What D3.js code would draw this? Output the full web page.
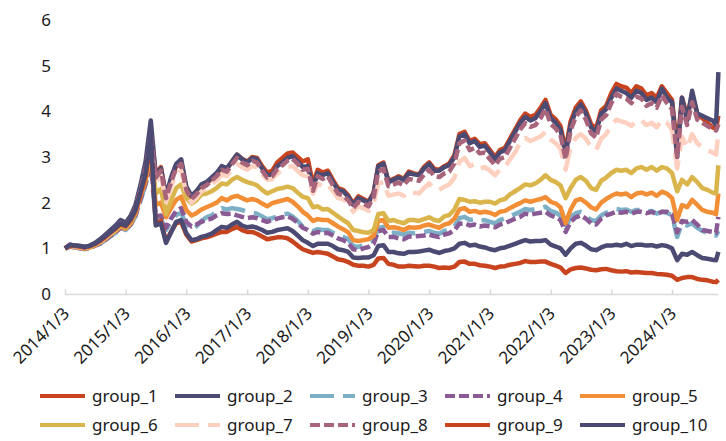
<!DOCTYPE html>
<html>
<head>
<meta charset="utf-8">
<script src="https://cdn.jsdelivr.net/npm/d3@7"></script>
<style>
  body { margin: 0; background: #fff; }
  text { font-family: "Noto Sans", sans-serif; fill: #1a1a1a; }
</style>
</head>
<body>
<div id="chart"></div>
<script>
// monthly points (3rd of each month) + two last trading days
var dates = d3.timeMonth.range(new Date(2014, 0, 1), new Date(2024, 9, 1))
  .map(d => new Date(d.getFullYear(), d.getMonth(), 3))
  .concat([new Date(2024, 8, 24), new Date(2024, 9, 8)]);

var tickYears = [2014, 2015, 2016, 2017, 2018, 2019, 2020, 2021, 2022, 2023, 2024];
var yTicks = [0, 1, 2, 3, 4, 5, 6];

var names = ["group_1", "group_2", "group_3", "group_4", "group_5",
             "group_6", "group_7", "group_8", "group_9", "group_10"];

var group_1 = [
  1.00, 1.07, 1.05, 1.04, 1.02, 1.05, 1.11, 1.18, 1.28, 1.38, 1.47, 1.58,
  1.53, 1.68, 1.90, 2.35, 2.80, 3.55, 2.62, 2.78, 2.15, 2.50, 2.80, 2.90,
  2.30, 2.12, 2.22, 2.38, 2.42, 2.52, 2.62, 2.78, 2.74, 2.90, 3.05, 2.96,
  2.90, 3.00, 2.98, 2.80, 2.66, 2.70, 2.88, 2.98, 3.08, 3.10, 3.00, 2.90,
  2.95, 2.40, 2.72, 2.66, 2.70, 2.50, 2.32, 2.28, 2.16, 1.98, 2.14, 2.08,
  2.02, 2.22, 2.82, 2.88, 2.48, 2.52, 2.58, 2.52, 2.68, 2.64, 2.62, 2.78,
  2.88, 2.74, 2.72, 2.80, 2.86, 3.04, 3.50, 3.55, 3.35, 3.40, 3.28, 3.30,
  3.15, 3.00, 3.15, 3.20, 3.40, 3.60, 3.80, 3.95, 3.88, 3.92, 4.08, 4.25,
  3.92, 3.82, 3.68, 3.15, 3.78, 4.08, 4.22, 4.02, 3.72, 3.62, 4.02, 4.12,
  4.40, 4.60, 4.55, 4.52, 4.40, 4.55, 4.50, 4.35, 4.40, 4.30, 4.55, 4.40,
  4.25, 3.20, 4.30, 3.90, 4.35, 3.95, 3.85, 3.75, 3.65, 3.62, 3.90];

var group_2 = [
  1.00, 1.08, 1.06, 1.05, 1.03, 1.06, 1.12, 1.20, 1.30, 1.40, 1.50, 1.62,
  1.56, 1.72, 1.95, 2.40, 2.90, 3.80, 2.60, 2.75, 2.15, 2.55, 2.85, 2.95,
  2.35, 2.15, 2.25, 2.40, 2.45, 2.55, 2.65, 2.80, 2.75, 2.90, 3.05, 2.95,
  2.88, 2.98, 2.95, 2.75, 2.60, 2.62, 2.80, 2.88, 2.98, 3.02, 2.90, 2.78,
  2.80, 2.30, 2.65, 2.60, 2.65, 2.45, 2.28, 2.25, 2.13, 1.95, 2.10, 2.05,
  2.00, 2.20, 2.80, 2.85, 2.45, 2.50, 2.55, 2.50, 2.65, 2.62, 2.60, 2.75,
  2.85, 2.70, 2.70, 2.78, 2.82, 3.00, 3.45, 3.50, 3.30, 3.35, 3.22, 3.25,
  3.10, 2.95, 3.10, 3.15, 3.35, 3.55, 3.74, 3.88, 3.80, 3.85, 4.00, 4.18,
  3.85, 3.75, 3.60, 3.05, 3.70, 4.00, 4.15, 3.95, 3.65, 3.55, 3.95, 4.05,
  4.30, 4.50, 4.45, 4.40, 4.30, 4.45, 4.40, 4.25, 4.30, 4.20, 4.50, 4.30,
  4.20, 3.00, 4.30, 3.80, 4.45, 3.95, 3.90, 3.85, 3.80, 3.70, 4.86];

var group_3 = [
  1.00, 1.04, 1.02, 1.00, 0.98, 1.01, 1.05, 1.10, 1.18, 1.26, 1.34, 1.44,
  1.40, 1.52, 1.70, 2.05, 2.40, 2.85, 1.60, 1.65, 1.40, 1.58, 1.73, 1.78,
  1.50, 1.40, 1.48, 1.60, 1.68, 1.72, 1.80, 1.88, 1.85, 1.88, 1.86, 1.84,
  1.80, 1.78, 1.76, 1.70, 1.64, 1.66, 1.70, 1.74, 1.76, 1.70, 1.60, 1.48,
  1.42, 1.38, 1.42, 1.40, 1.40, 1.34, 1.28, 1.25, 1.20, 1.05, 1.03, 1.08,
  1.12, 1.18, 1.45, 1.47, 1.34, 1.34, 1.33, 1.30, 1.34, 1.33, 1.34, 1.36,
  1.38, 1.34, 1.32, 1.38, 1.40, 1.48, 1.66, 1.69, 1.62, 1.64, 1.60, 1.62,
  1.58, 1.55, 1.62, 1.65, 1.70, 1.75, 1.80, 1.86, 1.84, 1.86, 1.88, 1.91,
  1.82, 1.78, 1.72, 1.45, 1.68, 1.77, 1.80, 1.72, 1.62, 1.60, 1.72, 1.78,
  1.82, 1.86, 1.84, 1.85, 1.80, 1.84, 1.84, 1.80, 1.82, 1.76, 1.80, 1.78,
  1.72, 1.25, 1.55, 1.50, 1.55, 1.45, 1.38, 1.34, 1.30, 1.28, 1.38];

var group_4 = [
  1.00, 1.04, 1.02, 1.00, 0.99, 1.01, 1.06, 1.11, 1.19, 1.27, 1.35, 1.45,
  1.41, 1.53, 1.72, 2.08, 2.42, 2.90, 1.70, 1.72, 1.45, 1.65, 1.82, 1.88,
  1.58, 1.48, 1.52, 1.58, 1.62, 1.65, 1.72, 1.77, 1.75, 1.76, 1.72, 1.69,
  1.66, 1.68, 1.66, 1.62, 1.58, 1.62, 1.65, 1.68, 1.70, 1.65, 1.56, 1.45,
  1.40, 1.32, 1.36, 1.33, 1.34, 1.28, 1.22, 1.18, 1.12, 0.98, 0.96, 1.00,
  1.03, 1.10, 1.38, 1.40, 1.25, 1.25, 1.22, 1.20, 1.26, 1.26, 1.27, 1.28,
  1.30, 1.27, 1.25, 1.30, 1.33, 1.40, 1.54, 1.55, 1.50, 1.52, 1.48, 1.50,
  1.48, 1.46, 1.52, 1.55, 1.60, 1.65, 1.69, 1.76, 1.74, 1.76, 1.78, 1.80,
  1.72, 1.68, 1.62, 1.36, 1.58, 1.68, 1.72, 1.65, 1.55, 1.52, 1.65, 1.72,
  1.76, 1.80, 1.78, 1.80, 1.76, 1.80, 1.80, 1.77, 1.80, 1.75, 1.80, 1.80,
  1.75, 1.35, 1.60, 1.58, 1.62, 1.52, 1.40, 1.38, 1.36, 1.34, 1.69];

var group_5 = [
  1.00, 1.05, 1.03, 1.01, 0.99, 1.02, 1.07, 1.13, 1.21, 1.30, 1.38, 1.48,
  1.43, 1.55, 1.76, 2.15, 2.48, 3.05, 1.95, 2.00, 1.68, 1.88, 2.06, 2.13,
  1.84, 1.72, 1.77, 1.85, 1.90, 1.95, 2.00, 2.10, 2.05, 2.12, 2.15, 2.10,
  2.05, 2.08, 2.05, 1.98, 1.92, 1.99, 2.02, 2.05, 2.08, 2.02, 1.92, 1.80,
  1.72, 1.60, 1.64, 1.62, 1.62, 1.55, 1.48, 1.42, 1.35, 1.18, 1.16, 1.18,
  1.20, 1.28, 1.60, 1.62, 1.45, 1.46, 1.44, 1.40, 1.46, 1.45, 1.46, 1.50,
  1.52, 1.48, 1.45, 1.52, 1.55, 1.65, 1.85, 1.88, 1.80, 1.82, 1.78, 1.80,
  1.78, 1.73, 1.80, 1.82, 1.88, 1.94, 1.99, 2.05, 2.02, 2.05, 2.08, 2.12,
  2.02, 1.98, 1.90, 1.55, 1.85, 2.05, 2.08, 2.00, 1.90, 1.85, 2.00, 2.08,
  2.15, 2.20, 2.18, 2.20, 2.12, 2.20, 2.22, 2.18, 2.22, 2.15, 2.24, 2.20,
  2.10, 1.62, 1.95, 1.90, 2.06, 1.95, 1.84, 1.80, 1.78, 1.75, 2.20];

var group_6 = [
  1.00, 1.06, 1.04, 1.02, 1.00, 1.03, 1.08, 1.14, 1.22, 1.31, 1.40, 1.50,
  1.45, 1.58, 1.80, 2.20, 2.55, 3.20, 2.20, 2.30, 1.75, 2.05, 2.32, 2.40,
  2.10, 1.98, 2.05, 2.18, 2.20, 2.25, 2.32, 2.42, 2.40, 2.50, 2.56, 2.50,
  2.45, 2.42, 2.38, 2.28, 2.20, 2.25, 2.30, 2.32, 2.35, 2.32, 2.22, 2.13,
  2.10, 1.90, 1.92, 1.85, 1.86, 1.78, 1.70, 1.62, 1.55, 1.40, 1.38, 1.35,
  1.34, 1.40, 1.75, 1.77, 1.60, 1.62, 1.58, 1.55, 1.62, 1.62, 1.60, 1.64,
  1.68, 1.62, 1.60, 1.70, 1.73, 1.85, 2.08, 2.06, 2.02, 2.03, 2.00, 2.02,
  2.02, 1.98, 2.05, 2.08, 2.18, 2.25, 2.32, 2.40, 2.38, 2.42, 2.50, 2.60,
  2.50, 2.45, 2.38, 2.10, 2.32, 2.50, 2.56, 2.48, 2.32, 2.28, 2.48, 2.55,
  2.65, 2.72, 2.70, 2.72, 2.65, 2.75, 2.78, 2.72, 2.78, 2.70, 2.78, 2.75,
  2.65, 2.25, 2.50, 2.40, 2.56, 2.45, 2.32, 2.28, 2.22, 2.20, 2.82];

var group_7 = [
  1.00, 1.06, 1.04, 1.03, 1.01, 1.04, 1.09, 1.15, 1.24, 1.33, 1.42, 1.52,
  1.48, 1.62, 1.84, 2.25, 2.65, 3.30, 2.45, 2.60, 2.02, 2.35, 2.60, 2.70,
  2.20, 2.00, 2.10, 2.25, 2.30, 2.40, 2.48, 2.62, 2.58, 2.72, 2.85, 2.78,
  2.72, 2.80, 2.78, 2.62, 2.50, 2.52, 2.64, 2.70, 2.78, 2.80, 2.70, 2.60,
  2.58, 2.20, 2.42, 2.35, 2.40, 2.25, 2.10, 2.08, 1.98, 1.80, 1.92, 1.88,
  1.82, 1.98, 2.42, 2.45, 2.15, 2.18, 2.20, 2.15, 2.25, 2.22, 2.20, 2.32,
  2.42, 2.30, 2.28, 2.35, 2.40, 2.55, 2.90, 2.98, 2.80, 2.85, 2.75, 2.78,
  2.70, 2.60, 2.72, 2.78, 2.95, 3.10, 3.32, 3.42, 3.35, 3.40, 3.45, 3.55,
  3.38, 3.30, 3.18, 2.72, 3.22, 3.42, 3.50, 3.40, 3.22, 3.15, 3.40, 3.50,
  3.70, 3.82, 3.78, 3.75, 3.68, 3.80, 3.80, 3.70, 3.75, 3.65, 3.82, 3.75,
  3.60, 2.75, 3.45, 3.20, 3.50, 3.30, 3.22, 3.15, 3.10, 3.05, 3.55];

var group_8 = [
  1.00, 1.07, 1.05, 1.04, 1.02, 1.05, 1.10, 1.17, 1.27, 1.36, 1.45, 1.56,
  1.50, 1.66, 1.88, 2.30, 2.75, 3.50, 2.55, 2.70, 2.10, 2.45, 2.75, 2.85,
  2.28, 2.08, 2.18, 2.32, 2.38, 2.48, 2.58, 2.72, 2.68, 2.84, 2.98, 2.88,
  2.82, 2.92, 2.88, 2.70, 2.55, 2.58, 2.74, 2.82, 2.92, 2.96, 2.85, 2.72,
  2.74, 2.26, 2.58, 2.52, 2.58, 2.38, 2.20, 2.16, 2.05, 1.88, 2.02, 1.98,
  1.92, 2.12, 2.68, 2.74, 2.36, 2.40, 2.44, 2.38, 2.52, 2.50, 2.48, 2.62,
  2.72, 2.58, 2.56, 2.64, 2.68, 2.86, 3.30, 3.36, 3.15, 3.20, 3.08, 3.10,
  2.95, 2.82, 2.96, 3.00, 3.20, 3.40, 3.60, 3.74, 3.66, 3.70, 3.85, 4.05,
  3.72, 3.62, 3.48, 2.95, 3.58, 3.88, 4.02, 3.82, 3.52, 3.42, 3.82, 3.92,
  4.18, 4.38, 4.32, 4.28, 4.18, 4.32, 4.28, 4.12, 4.18, 4.08, 4.35, 4.18,
  4.05, 3.00, 4.10, 3.70, 4.20, 3.82, 3.75, 3.68, 3.62, 3.58, 3.72];

var group_9 = [
  1.00, 1.06, 1.05, 1.04, 1.02, 1.05, 1.10, 1.16, 1.25, 1.34, 1.43, 1.53,
  1.48, 1.62, 1.82, 2.20, 2.58, 3.35, 1.55, 1.60, 1.15, 1.36, 1.55, 1.58,
  1.30, 1.15, 1.18, 1.22, 1.24, 1.28, 1.32, 1.36, 1.36, 1.42, 1.47, 1.40,
  1.36, 1.36, 1.32, 1.26, 1.20, 1.22, 1.24, 1.24, 1.22, 1.15, 1.06, 0.98,
  0.94, 0.90, 0.92, 0.90, 0.88, 0.82, 0.76, 0.74, 0.70, 0.64, 0.62, 0.62,
  0.60, 0.64, 0.78, 0.79, 0.66, 0.64, 0.60, 0.60, 0.62, 0.61, 0.60, 0.62,
  0.62, 0.60, 0.57, 0.58, 0.57, 0.60, 0.70, 0.71, 0.66, 0.66, 0.63, 0.62,
  0.60, 0.57, 0.60, 0.61, 0.64, 0.66, 0.68, 0.72, 0.70, 0.70, 0.71, 0.71,
  0.66, 0.62, 0.58, 0.46, 0.54, 0.57, 0.58, 0.56, 0.53, 0.52, 0.54, 0.55,
  0.52, 0.50, 0.49, 0.50, 0.47, 0.48, 0.47, 0.46, 0.46, 0.44, 0.43, 0.42,
  0.40, 0.31, 0.35, 0.37, 0.37, 0.33, 0.31, 0.30, 0.27, 0.26, 0.31];

var group_10 = [
  1.00, 1.08, 1.06, 1.05, 1.03, 1.06, 1.11, 1.18, 1.27, 1.36, 1.45, 1.55,
  1.50, 1.65, 1.85, 2.25, 2.65, 3.50, 1.50, 1.55, 1.12, 1.35, 1.58, 1.62,
  1.33, 1.18, 1.20, 1.25, 1.28, 1.32, 1.40, 1.47, 1.45, 1.52, 1.58, 1.50,
  1.46, 1.48, 1.45, 1.40, 1.34, 1.36, 1.40, 1.42, 1.44, 1.38, 1.28, 1.18,
  1.12, 1.05, 1.10, 1.10, 1.10, 1.05, 0.98, 0.96, 0.92, 0.80, 0.79, 0.80,
  0.80, 0.85, 1.05, 1.07, 0.92, 0.92, 0.89, 0.88, 0.92, 0.92, 0.93, 0.95,
  0.97, 0.93, 0.90, 0.94, 0.96, 1.00, 1.10, 1.12, 1.06, 1.08, 1.04, 1.02,
  0.98, 0.96, 1.00, 1.02, 1.06, 1.10, 1.14, 1.18, 1.15, 1.16, 1.16, 1.18,
  1.08, 1.04, 1.00, 0.86, 1.00, 1.10, 1.12, 1.06, 0.98, 0.96, 1.02, 1.06,
  1.06, 1.08, 1.06, 1.10, 1.05, 1.08, 1.08, 1.06, 1.07, 1.04, 1.07, 1.05,
  1.00, 0.74, 0.88, 0.86, 0.92, 0.85, 0.79, 0.77, 0.75, 0.74, 0.92];

var seriesValues = [group_1, group_2, group_3, group_4, group_5,
                    group_6, group_7, group_8, group_9, group_10];

var colors = ["#C8441F", "#4B4A73", "#7DAFC6", "#8A5A95", "#F28E36",
              "#DAB54B", "#FDD0C0", "#A8647A", "#C8441F", "#4B4A73"];
var dashes = [null, null, "24,9", "10,4", null, null, "24,9", "10,4", null, null];

var svgWidth = 726;
var svgHeight = 441;

var svg = d3.select("#chart")
  .append("svg")
  .attr("width", svgWidth)
  .attr("height", svgHeight);

var xScale = d3.scaleTime()
  .domain([new Date(2014, 0, 3), new Date(2024, 0, 3)])
  .range([65, 672]);

var yScale = d3.scaleLinear()
  .domain([0, 6])
  .range([294, 20]);

// y labels (no axis line)
svg.append("g").selectAll("text")
  .data(yTicks)
  .enter()
  .append("text")
  .attr("x", 51)
  .attr("y", d => yScale(d))
  .attr("dy", "0.35em")
  .attr("text-anchor", "end")
  .attr("font-size", 17)
  .text(d => d);

// x axis
var tickDates = tickYears.map(y => new Date(y, 0, 3));
var xAxis = d3.axisBottom(xScale)
  .tickValues(tickDates)
  .tickSize(-5)
  .tickSizeOuter(0)
  .tickFormat(d => d.getFullYear() + "/1/3");

var xg = svg.append("g")
  .attr("transform", "translate(0,294.5)")
  .call(xAxis);
xg.select(".domain")
  .attr("d", "M65,0H718")
  .attr("stroke", "#D9D9D9")
  .attr("stroke-width", 1.5);
xg.selectAll(".tick line").attr("stroke", "#D9D9D9").attr("stroke-width", 1.5);
xg.selectAll(".tick text")
  .attr("font-size", 17)
  .attr("font-family", "Noto Sans, sans-serif")
  .attr("fill", "#1a1a1a")
  .attr("text-anchor", "end")
  .attr("dx", 0)
  .attr("dy", 0)
  .attr("y", 0)
  .attr("transform", "translate(5,20) rotate(-45)");

// lines
var line = d3.line()
  .x((d, i) => xScale(dates[i]))
  .y(d => yScale(d));

svg.append("g").selectAll("path")
  .data(seriesValues)
  .enter()
  .append("path")
  .attr("d", d => line(d))
  .attr("fill", "none")
  .attr("stroke", (d, i) => colors[i])
  .attr("stroke-width", 4.5)
  .attr("stroke-linejoin", "round")
  .attr("stroke-dasharray", (d, i) => dashes[i]);

// legend, 2 rows x 5
var legend = svg.append("g").selectAll("g")
  .data(names)
  .enter()
  .append("g")
  .attr("transform", (d, i) => `translate(${40 + (i % 5) * 135}, ${396 + Math.floor(i / 5) * 29})`);

legend.append("line")
  .attr("x1", 0)
  .attr("x2", 45)
  .attr("stroke", (d, i) => colors[i])
  .attr("stroke-width", 4)
  .attr("stroke-dasharray", (d, i) => dashes[i]);

legend.append("text")
  .attr("x", 52)
  .attr("dy", "0.35em")
  .attr("font-size", 17)
  .text(d => d);
</script>
</body>
</html>
